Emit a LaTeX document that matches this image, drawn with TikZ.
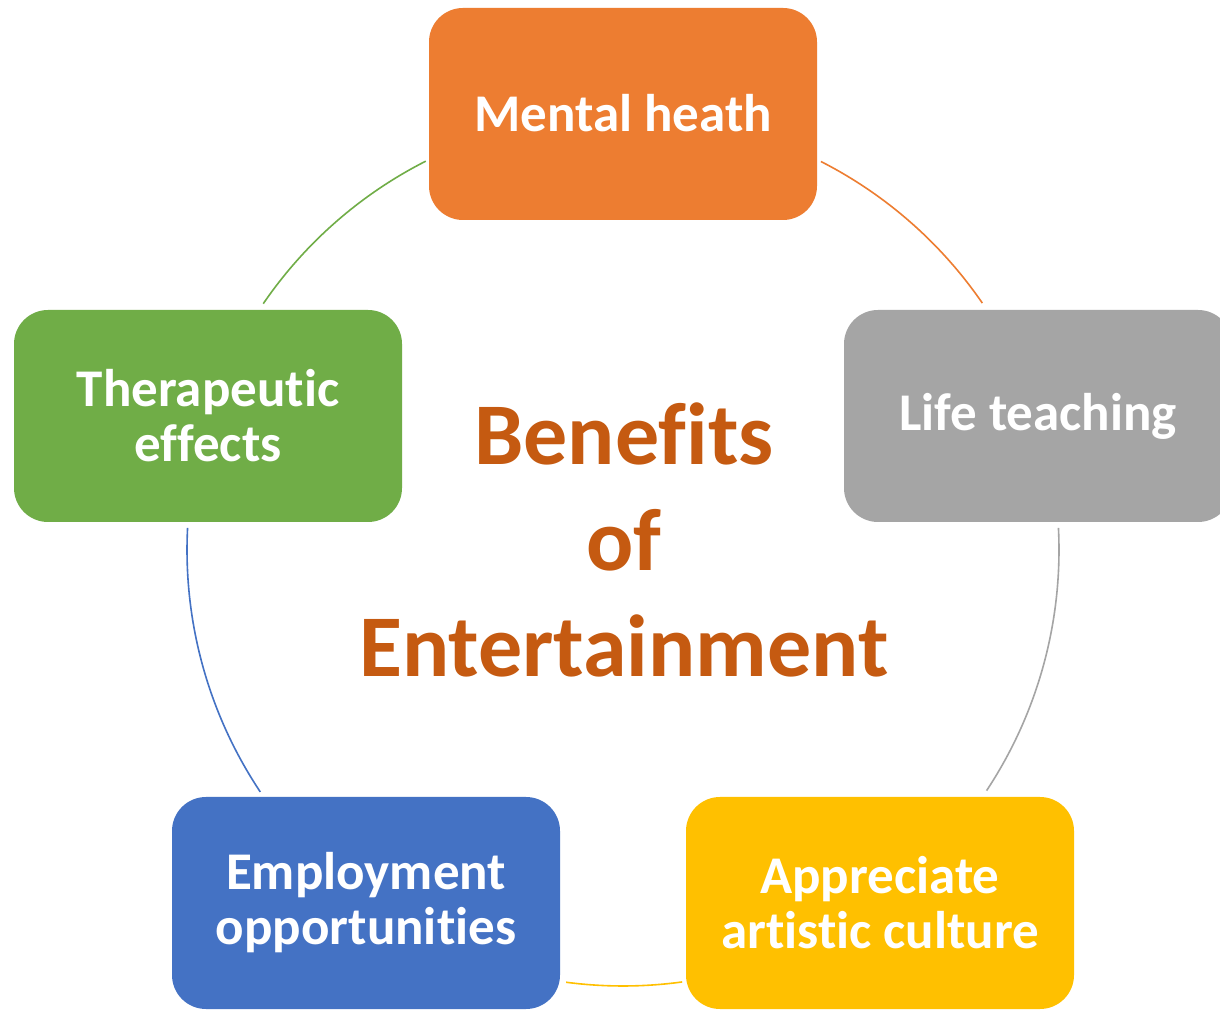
\documentclass[tikz,border=0pt]{standalone}
\usepackage{fontspec}
\setmainfont[Ligatures=NoCommon]{Carlito}
\definecolor{cOrange}{HTML}{ED7D31}
\definecolor{cGray}{HTML}{A5A5A5}
\definecolor{cYellow}{HTML}{FFC000}
\definecolor{cBlue}{HTML}{4472C4}
\definecolor{cGreen}{HTML}{70AD47}
\definecolor{cTitle}{HTML}{C55A11}
\tikzset{
  boxnode/.style={rounded corners=34pt, minimum width=388pt, minimum height=212pt,
    inner sep=0pt, text=white, align=center, font=\fontsize{53}{55}\selectfont\bfseries},
  ring/.style={line width=1.6pt}
}
\begin{document}
\begin{tikzpicture}[x=1pt,y=1pt]
\clip (0,0) rectangle (1220,1009);
\fill[white] (0,0) rectangle (1220,1009);
\coordinate (c) at (623,459);
\node[boxnode, fill=cOrange] (mh) at (623,895) {\raisebox{3pt}{Mental heath}};
\node[boxnode, fill=cGray] (lt) at (1038,593) {Life teaching};
\node[boxnode, fill=cYellow] (ac) at (880,106) {Appreciate\\artistic culture};
\node[boxnode, fill=cBlue] (eo) at (366,106) {Employment\\opportunities};
\node[boxnode, fill=cGreen] (te) at (208,593) {Therapeutic\\effects};
\node[text=cTitle, align=center, font=\fontsize{88}{106}\selectfont\bfseries] (title) at (624,469) {Benefits\\of\\Entertainment};
\draw[ring, cOrange] ([shift={(63:436)}]c) arc[start angle=63, end angle=34.5, radius=436];
\draw[ring, cGray] ([shift={(2.9:436)}]c) arc[start angle=2.9, end angle=-33.5, radius=436];
\draw[ring, cYellow] ([shift={(-82.2:436)}]c) arc[start angle=-82.2, end angle=-97.5, radius=436];
\draw[ring, cBlue] ([shift={(-146.3:436)}]c) arc[start angle=-146.3, end angle=-182.9, radius=436];
\draw[ring, cGreen] ([shift={(145.6:436)}]c) arc[start angle=145.6, end angle=116.9, radius=436];
\end{tikzpicture}
\end{document}
